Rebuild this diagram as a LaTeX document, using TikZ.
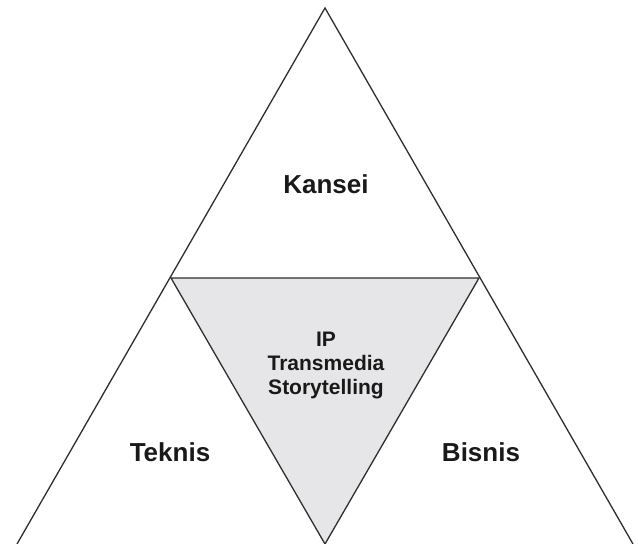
\documentclass[tikz,border=0pt]{standalone}
\usepackage{fontspec}
\setmainfont{Liberation Sans}
\definecolor{edge}{HTML}{2E2E2E}
\definecolor{core}{HTML}{E6E6E8}
\begin{document}
\begin{tikzpicture}[x=1pt,y=-1pt,
  side/.style={draw=edge,line width=1.3pt,line join=miter},
  big/.style={font=\bfseries\fontsize{26}{30}\selectfont,text=black!90},
  small/.style={font=\bfseries\fontsize{21}{24}\selectfont,align=center,text=black!90}]
\useasboundingbox (0,0) rectangle (638,544);
\coordinate (apex) at (325,8);
\coordinate (bl) at (17,544);
\coordinate (br) at (633,544);
\coordinate (il) at (171,278);
\coordinate (ir) at (479,278);
\coordinate (ib) at (325,544);
\fill[core] (il) -- (ir) -- (ib) -- cycle;
\draw[side] (bl) -- (apex) -- (br);
\draw[side] (il) -- (ir) -- (ib) -- cycle;
\node[big] (kansei) at (326,184) {Kansei};
\node[big] (teknis) at (170,452) {Teknis};
\node[big] (bisnis) at (481,452) {Bisnis};
\node[small] (ip) at (326,365) {IP\\Transmedia\\Storytelling};
\end{tikzpicture}
\end{document}
